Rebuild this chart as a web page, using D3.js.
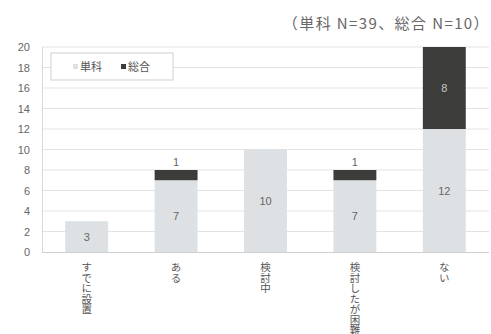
<!DOCTYPE html>
<html>
<head>
<meta charset="utf-8">
<script src="https://cdn.jsdelivr.net/npm/d3@7"></script>
<style>
  html, body { margin: 0; padding: 0; background: #fff; }
  svg { display: block; font-family: "Noto Sans CJK JP", "Noto Sans", sans-serif; }
</style>
</head>
<body>
<svg id="chart" width="491" height="334"></svg>
<script>
// Categories and series values
const categories = ["すでに設置", "ある", "検討中", "検討したが困難", "ない"];
const tanka = [3, 7, 10, 7, 12];   // 単科
const sougou = [0, 1, 0, 1, 8];    // 総合
const seriesNames = ["単科", "総合"];
const yTicks = [0, 2, 4, 6, 8, 10, 12, 14, 16, 18, 20];
const title = "（単科 N=39、総合 N=10）";

const colors = { "単科": "#dde1e4", "総合": "#3c3d3b" };

const svg = d3.select("#chart");
const margin = { left: 42, right: 2, top: 47, bottom: 82 };
const W = 491, H = 334;

const x = d3.scaleBand()
  .domain(categories)
  .range([margin.left, W - margin.right])
  .paddingInner(0.52)
  .paddingOuter(0.26);

const y = d3.scaleLinear()
  .domain([0, 20])
  .range([H - margin.bottom, margin.top]);

// Title
svg.append("text")
  .attr("x", 490).attr("y", 29)
  .attr("text-anchor", "end")
  .attr("font-size", 15)
  .attr("letter-spacing", 1.4)
  .attr("fill", "#666")
  .text(title);

// Gridlines
svg.append("g")
  .selectAll("line")
  .data(yTicks.filter(d => d > 0))
  .join("line")
  .attr("x1", margin.left).attr("x2", W - margin.right)
  .attr("y1", d => y(d)).attr("y2", d => y(d))
  .attr("stroke", "#e3e3e3").attr("stroke-width", 1);

// Left frame line
svg.append("line")
  .attr("x1", margin.left + 0.5).attr("x2", margin.left + 0.5)
  .attr("y1", y(20)).attr("y2", y(0))
  .attr("stroke", "#d8d8d8");

// Y axis labels
const yAxis = d3.axisLeft(y).tickValues(yTicks).tickSize(0).tickPadding(12);
const gy = svg.append("g")
  .attr("transform", `translate(${margin.left},0)`)
  .call(yAxis);
gy.select(".domain").remove();
gy.selectAll("text")
  .attr("font-size", 11)
  .attr("fill", "#666")
  .attr("font-family", "Liberation Sans, Arial, sans-serif");

// Stacked data
const rows = categories.map((c, i) => ({ cat: c, "単科": tanka[i], "総合": sougou[i] }));
const stack = d3.stack().keys(seriesNames)(rows);

svg.append("g")
  .selectAll("g")
  .data(stack)
  .join("g")
  .attr("fill", d => colors[d.key])
  .selectAll("rect")
  .data(d => d)
  .join("rect")
  .attr("x", d => x(d.data.cat))
  .attr("width", x.bandwidth())
  .attr("y", d => y(d[1]))
  .attr("height", d => y(d[0]) - y(d[1]));

// Baseline
svg.append("line")
  .attr("x1", margin.left).attr("x2", W - margin.right)
  .attr("y1", y(0) + 0.5).attr("y2", y(0) + 0.5)
  .attr("stroke", "#cfcfcf");

// Value labels
const labels = svg.append("g")
  .attr("font-family", "Liberation Sans, Arial, sans-serif")
  .attr("font-size", 11)
  .attr("text-anchor", "middle");

stack.forEach(s => {
  s.forEach(d => {
    const v = d[1] - d[0];
    if (v <= 0) return;
    const cx = x(d.data.cat) + x.bandwidth() / 2;
    const small = (y(d[0]) - y(d[1])) < 14;
    const yy = small ? y(d[1]) - 4 : (y(d[0]) + y(d[1])) / 2 + 4;
    labels.append("text")
      .attr("x", cx).attr("y", yy)
      .attr("fill", s.key === "総合" && !small ? "#c8c8c8" : "#666")
      .text(v);
  });
});

// Category labels (vertical)
svg.append("g")
  .selectAll("text")
  .data(categories)
  .join("text")
  .attr("transform", d => `translate(${x(d) + x.bandwidth() / 2},${y(0) + 10})`)
  .attr("writing-mode", "vertical-rl")
  .attr("font-size", 10.5)
  .attr("fill", "#555")
  .text(d => d);

// Legend
const lg = svg.append("g").attr("transform", "translate(51,53)");
lg.append("rect")
  .attr("width", 122).attr("height", 27)
  .attr("fill", "#fff").attr("stroke", "#cfcfcf");
seriesNames.forEach((n, i) => {
  const g = lg.append("g").attr("transform", `translate(22,14)`);
  const off = i * 48;
  g.append("rect").attr("x", off).attr("y", -3).attr("width", 5).attr("height", 5)
    .attr("fill", colors[n]);
  g.append("text").attr("x", off + 7).attr("y", 4)
    .attr("font-size", 11).attr("fill", "#555").text(n);
});
</script>
</body>
</html>
